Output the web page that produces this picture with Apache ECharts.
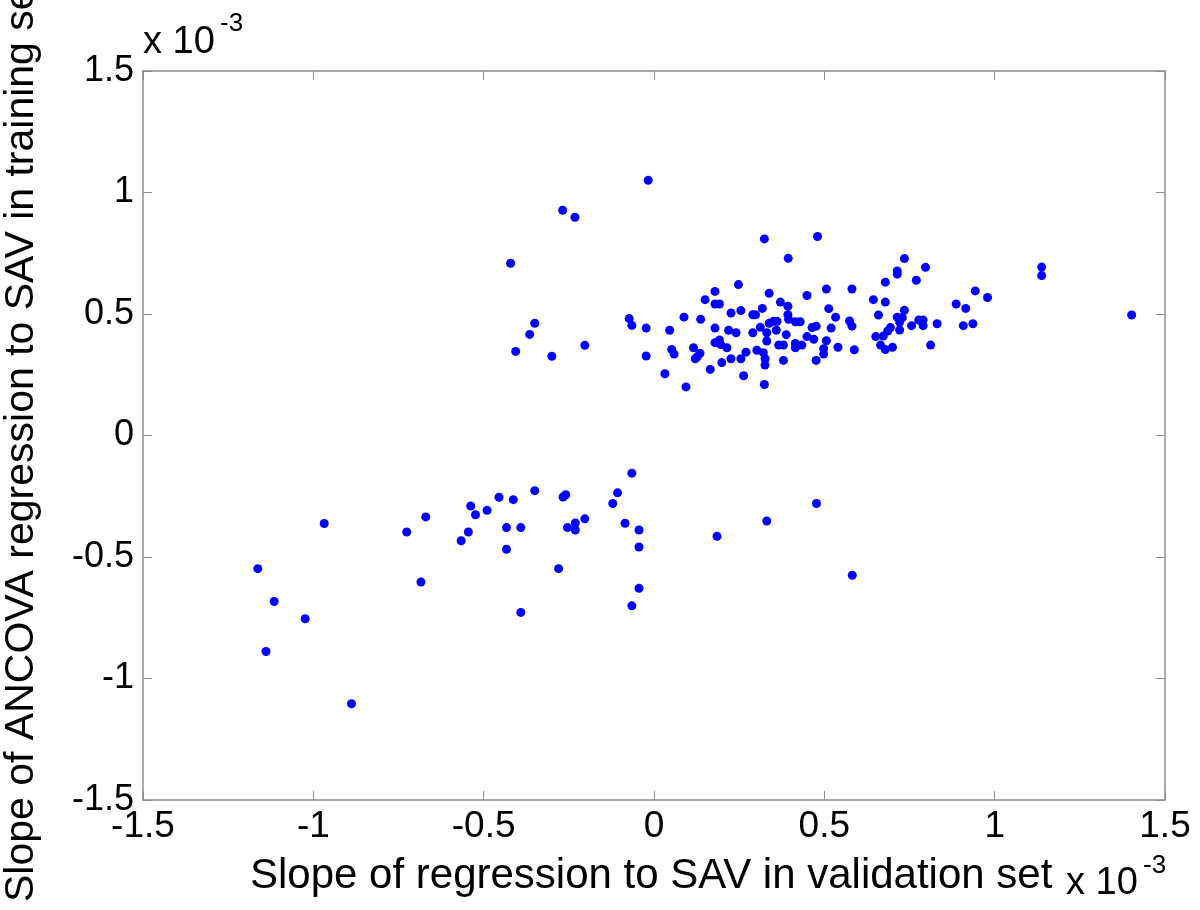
<!DOCTYPE html>
<html>
<head>
<meta charset="utf-8">
<script src="https://cdn.jsdelivr.net/npm/echarts@6/dist/echarts.min.js"></script>
<style>
html,body{margin:0;padding:0;background:#fff;}
#chart{width:1200px;height:910px;}
</style>
</head>
<body>
<div id="chart"></div>
<script>
// Values in units of 1e-3
const xTickLabels = ['-1.5','-1','-0.5','0','0.5','1','1.5'];
const yTickLabels = ['-1.5','-1','-0.5','0','0.5','1','1.5'];
const xTitle = 'Slope of regression to SAV in validation set';
const yTitle = 'Slope of ANCOVA regression to SAV in training set';
const expBase = 'x 10';
const expPow = '-3';

const xUpper = [-0.017,0.324,0.394,0.248,0.179,0.338,0.150,0.179,0.192,0.371,0.393,0.318,0.226,0.255,0.290,0.298,0.393,0.088,0.137,-0.073,-0.065,-0.023,0.046,0.179,0.219,0.241,0.290,0.312,0.338,0.351,0.361,0.331,0.359,0.395,0.415,0.388,0.331,0.179,0.192,0.196,0.214,0.366,0.380,0.415,0.415,0.052,0.059,0.116,0.135,0.127,0.121,-0.023,0.270,0.302,0.321,0.326,0.326,0.255,0.226,0.199,0.380,0.165,0.032,0.094,0.263,0.324,
 0.480,0.449,0.429,0.464,0.476,0.449,0.469,0.434,0.476,
 0.735,0.714,0.714,0.797,0.770,0.679,1.138,1.138,0.506,0.581,0.644,0.679,0.943,0.979,0.887,0.915,0.513,0.533,0.574,0.581,0.659,0.735,0.714,0.729,0.721,0.694,0.686,0.721,0.756,0.777,0.790,0.790,0.831,0.908,0.936,0.520,0.506,0.498,0.498,0.540,0.588,0.651,0.673,0.665,0.679,0.700,0.812,1.402,
 -0.268,-0.232,-0.421,-0.350,-0.365,-0.406,-0.300,-0.203];
const yUpper = [1.050,0.809,0.729,0.621,0.593,0.585,0.559,0.541,0.541,0.549,0.532,0.523,0.504,0.514,0.497,0.497,0.497,0.487,0.478,0.481,0.453,0.442,0.433,0.442,0.433,0.423,0.423,0.445,0.462,0.470,0.470,0.423,0.433,0.478,0.468,0.415,0.389,0.382,0.393,0.374,0.361,0.372,0.372,0.379,0.361,0.354,0.335,0.361,0.338,0.324,0.316,0.327,0.343,0.351,0.341,0.316,0.290,0.316,0.316,0.300,0.309,0.272,0.254,0.200,0.246,0.210,
 0.819,0.576,0.468,0.444,0.450,0.407,0.396,0.372,0.309,
 0.728,0.677,0.664,0.692,0.639,0.631,0.693,0.658,0.603,0.603,0.559,0.549,0.595,0.568,0.541,0.523,0.522,0.487,0.471,0.450,0.496,0.515,0.487,0.485,0.467,0.444,0.430,0.434,0.452,0.475,0.475,0.452,0.460,0.452,0.460,0.442,0.390,0.357,0.335,0.363,0.353,0.407,0.409,0.372,0.354,0.363,0.372,0.496,
 0.927,0.898,0.709,0.462,0.416,0.346,0.326,0.371];
const xLower = [-0.065,-0.107,-0.121,-0.085,-0.044,-0.044,-0.044,-0.065,-0.350,-0.267,-0.259,-0.413,-0.455,-0.538,-0.524,-0.490,-0.670,-0.726,-0.545,-0.566,-0.433,-0.391,-0.433,-0.231,-0.203,-0.254,-0.231,-0.280,-0.391,-0.684,-0.968,-1.163,-1.115,-1.024,-1.139,-0.888,0.185,0.331,0.477,0.582];
const yLower = [-0.155,-0.236,-0.280,-0.361,-0.389,-0.459,-0.629,-0.701,-0.227,-0.253,-0.244,-0.264,-0.254,-0.290,-0.326,-0.308,-0.335,-0.397,-0.397,-0.433,-0.379,-0.379,-0.468,-0.360,-0.343,-0.379,-0.389,-0.548,-0.728,-0.603,-0.362,-0.548,-0.683,-0.754,-0.889,-1.104,-0.415,-0.352,-0.280,-0.575];

const pts = [];
xUpper.forEach((v,i)=>pts.push([v, yUpper[i]]));
xLower.forEach((v,i)=>pts.push([v, yLower[i]]));

const FONT = '"Liberation Sans", Arial, sans-serif';
const axisCol = '#8c8c8c';
const fmt = v => { const s = xTickLabels.find(t => Math.abs(parseFloat(t) - v) < 1e-9); return s !== undefined ? s : ''; };
const fmtY = v => { const s = yTickLabels.find(t => Math.abs(parseFloat(t) - v) < 1e-9); return s !== undefined ? s : ''; };

const baseAxis = {
  type: 'value', min: -1.5, max: 1.5, interval: 0.5,
  splitLine: {show: false},
  axisLine: {show: true, onZero: false, lineStyle: {color: axisCol, width: 1.5}},
  axisTick: {show: true, inside: true, length: 9, lineStyle: {color: axisCol, width: 1}},
};

const txt = (x, y, text, size) => ({type: 'text', x: x, y: y, silent: true,
  style: {text: text, fontSize: size, fontFamily: FONT, fill: '#000', align: 'left', verticalAlign: 'middle'}});

const chart = echarts.init(document.getElementById('chart'), null, {renderer: 'canvas'});
chart.setOption({
  backgroundColor: '#fff',
  animation: false,
  grid: {left: 143, right: 35, top: 71, bottom: 110, containLabel: false},
  xAxis: [
    Object.assign({}, baseAxis, {position: 'bottom',
      axisLabel: {show: true, formatter: fmt, color: '#000', fontSize: 37, fontFamily: FONT, margin: 8}}),
    Object.assign({}, baseAxis, {position: 'top', axisLabel: {show: false}})
  ],
  yAxis: [
    Object.assign({}, baseAxis, {position: 'left',
      axisLabel: {show: true, formatter: fmtY, color: '#000', fontSize: 36, fontFamily: FONT, margin: 9}}),
    Object.assign({}, baseAxis, {position: 'right', axisLabel: {show: false}})
  ],
  series: [{
    type: 'scatter', xAxisIndex: 0, yAxisIndex: 0,
    data: pts, symbol: 'circle', symbolSize: 9,
    itemStyle: {color: '#0000ff', opacity: 1}
  }],
  graphic: [
    txt(250, 876, xTitle, 42),
    {type: 'text', x: 22, y: 902, rotation: Math.PI/2, silent: true,
      style: {text: yTitle, fontSize: 41, fontFamily: FONT, fill: '#000', align: 'left', verticalAlign: 'middle'}},
    txt(143, 43, expBase, 38),
    txt(220, 24, expPow, 26),
    txt(1066, 884, expBase, 38),
    txt(1143, 866, expPow, 26)
  ]
});
</script>
</body>
</html>
